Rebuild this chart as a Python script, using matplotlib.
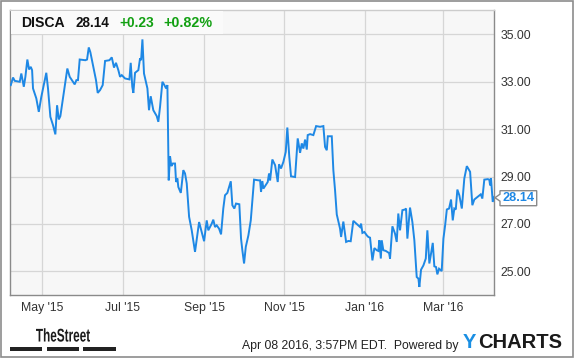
import matplotlib
matplotlib.use("Agg")
import matplotlib.pyplot as plt
import matplotlib.dates as mdates
from matplotlib.patches import Rectangle, Polygon, PathPatch
from matplotlib.textpath import TextPath
from matplotlib.font_manager import FontProperties
from matplotlib.transforms import Affine2D
import matplotlib.ticker as mticker
import pandas as pd

# ---------------- data ----------------
ticker = "DISCA"
last_price = "28.14"
change_abs = "+0.23"
change_pct = "+0.82%"
base_date = "2015-04-07"

# days after base_date
day = [
    0.0, 1.7, 3.0, 6.8, 8.0, 9.9, 11.1, 12.6, 13.9, 15.2,
    16.2, 16.9, 19.4, 21.3, 23.2, 25.3, 27.0, 28.3, 30.1, 32.1,
    33.9, 35.2, 36.5, 37.7, 39.7, 43.0, 44.8, 48.6, 49.9, 51.1,
    52.4, 56.7, 58.0, 59.3, 60.5,
    63.3, 64.8, 66.1, 67.9, 69.9, 71.7, 75.0, 76.8, 78.5, 80.0,
    81.8, 83.1, 84.4, 86.9, 90.2, 91.2, 92.4, 93.2, 94.5, 97.0,
    98.3, 99.1, 100.1, 101.3, 103.9, 105.1, 106.4, 108.4, 111.0, 112.2,
    113.5, 115.3, 116.8, 118.1, 119.1, 120.1, 121.1, 122.1, 123.2, 124.9,
    125.7, 126.7, 127.4, 129.3, 131.2, 132.5, 133.8, 135.6, 137.6, 140.1,
    143.2, 145.2, 147.0, 149.0, 150.2, 152.8, 154.0, 155.3, 156.6, 158.4,
    159.9, 161.6, 162.9, 164.7, 167.3, 168.5, 170.0, 171.3, 173.8, 175.1,
    176.1, 177.4, 178.7, 180.7, 182.5, 185.0, 188.3, 189.6, 190.3, 191.3,
    192.1, 195.4, 196.4, 197.2, 198.9, 201.0, 203.0, 204.0, 205.5, 207.3,
    209.1, 210.3, 211.8, 213.1, 216.2, 218.2, 220.0, 221.3, 222.5, 223.8,
    225.1, 225.8, 227.6, 230.1, 232.2, 235.2, 237.7, 239.0, 240.3, 241.1,
    244.1, 245.3, 246.6, 247.9, 250.4, 251.2, 252.9, 255.0, 256.7, 258.5,
    260.5, 262.3, 264.3, 265.6, 266.4, 267.4, 268.9, 270.7, 271.9, 273.2,
    275.0, 276.5, 278.3, 279.5, 280.3, 281.4, 282.1, 283.3, 285.2, 287.7,
    288.4, 290.2, 292.2, 293.5, 294.7, 296.0, 297.8, 299.8, 300.6, 301.6,
    303.6, 305.4, 306.9, 308.7, 310.0, 310.7, 312.0, 313.8, 315.6, 316.8,
    318.3, 319.6, 320.9, 322.1, 323.4, 324.4, 325.7, 327.7, 329.0, 330.3,
    331.6, 333.3, 334.8, 336.1, 337.3, 338.4, 339.6, 341.1, 343.0, 344.9,
    346.8, 349.3, 351.0, 352.5, 355.6, 357.4, 358.6, 360.1, 362.7, 363.9,
    364.5, 365.2, 366.5, 367.7,
]

price = [
    32.86, 33.18, 33.04, 33.00, 33.35, 32.79, 33.21, 33.94, 33.52, 33.63,
    33.49, 32.72, 32.30, 31.73, 32.36, 32.93, 33.38, 32.72, 31.52, 31.17,
    30.78, 32.01, 31.41, 31.55, 32.30, 33.56, 33.21, 32.89, 33.07, 33.07,
    33.94, 33.91, 33.94, 34.45, 34.25,
    33.49, 33.07, 32.53, 32.65, 32.86, 33.88, 33.91, 34.03, 33.60, 33.80,
    33.49, 33.21, 33.28, 33.14, 33.10, 33.80, 32.79, 32.53, 33.38, 33.49,
    33.99, 33.91, 34.79, 33.35, 32.72, 31.80, 32.39, 31.80, 31.55, 31.31,
    31.94, 33.00, 32.86, 32.72, 32.86, 28.84, 29.86, 29.44, 29.55, 29.55,
    28.77, 28.92, 28.56, 28.31, 29.27, 29.13, 28.71, 27.30, 26.73, 25.82,
    27.08, 26.66, 26.27, 27.15, 26.73, 27.01, 27.18, 26.87, 26.94, 26.80,
    26.56, 27.65, 28.21, 28.31, 28.80, 27.79, 27.65, 27.86, 27.83, 26.38,
    25.89, 25.33, 26.03, 26.52, 27.15, 28.87, 28.84, 28.84, 28.35, 28.81,
    28.49, 28.77, 29.13, 28.84, 29.72, 29.48, 28.77, 29.52, 29.34, 29.62,
    30.04, 31.07, 29.83, 29.01, 28.98, 30.61, 30.00, 30.40, 30.18, 30.56,
    30.14, 30.75, 30.79, 30.75, 31.13, 31.10, 31.13, 30.25, 30.11, 30.70,
    30.70, 29.27, 28.42, 27.40, 26.80, 26.45, 27.10, 26.24, 26.28, 26.27,
    27.13, 27.04, 26.94, 26.87, 27.01, 26.62, 26.66, 26.52, 26.45, 26.42,
    25.46, 25.98, 25.89, 25.86, 26.31, 25.54, 26.31, 25.89, 25.86, 25.77,
    25.54, 26.90, 26.59, 26.24, 27.44, 26.73, 27.58, 27.61, 27.65, 26.38,
    27.69, 27.08, 26.31, 24.76, 24.69, 24.34, 25.07, 25.25, 25.54, 26.73,
    25.33, 25.75, 26.20, 25.21, 25.18, 24.87, 25.11, 25.01, 26.38, 26.94,
    27.61, 27.65, 28.03, 27.15, 27.65, 27.61, 28.45, 28.21, 27.65, 28.92,
    29.44, 29.20, 27.79, 28.03, 28.17, 28.25, 28.07, 28.87, 28.89, 28.87,
    28.63, 28.92, 27.93, 28.14,
]

y_ticks = [25, 27, 29, 31, 33, 35]
x_tick_months = [1, 3, 5, 7, 9, 11]
footer_text = "Apr 08 2016, 3:57PM EDT.  Powered by"

assert len(day) == len(price)

# ---------------- figure ----------------
W, H = 575, 358
plt.rcParams['font.family'] = ['Liberation Sans', 'DejaVu Sans']
fig = plt.figure(figsize=(W / 100, H / 100), dpi=100)
fig.patch.set_facecolor('white')

def fx(x):
    return x / W

def fy(y):
    return 1 - y / H

L, T, R, B = 10, 10, 494.3, 295
ax = fig.add_axes([fx(L), fy(B), fx(R) - fx(L), fy(T) - fy(B)])
ax.set_facecolor('#f7f7f7')

dates = pd.Timestamp(base_date) + pd.to_timedelta(day, unit='D')
ax.plot(dates, price, color='#1e88e5', lw=1.4, zorder=3, solid_joinstyle='miter')

ax.set_xlim(pd.Timestamp(base_date) + pd.Timedelta(days=-0.6),
            pd.Timestamp(base_date) + pd.Timedelta(days=367.7))
ax.set_ylim(24.0, 36.03)

ax.xaxis.set_major_locator(mdates.MonthLocator(bymonth=x_tick_months))
ax.xaxis.set_major_formatter(mdates.DateFormatter("%b '%y"))
ax.yaxis.set_major_locator(mticker.FixedLocator(y_ticks))
ax.yaxis.set_major_formatter(mticker.FormatStrFormatter('%.2f'))
ax.yaxis.tick_right()
ax.tick_params(axis='y', length=0, pad=4.5, labelsize=8.8, labelcolor='#333333')
ax.tick_params(axis='x', length=0, pad=5, labelsize=8.8, labelcolor='#333333')

ax.grid(True, color='#d6d6d6', lw=0.9, zorder=1)
ax.set_axisbelow(True)
for s in ['left', 'bottom', 'right']:
    ax.spines[s].set_color('#8a8a8a')
    ax.spines[s].set_linewidth(1.0)
ax.spines['top'].set_color('#cccccc')
ax.spines['top'].set_linewidth(1.0)

# title box
fig.patches.append(Rectangle((fx(L + 0.7), fy(34)), fx(223) - fx(L + 0.7), fy(10.7) - fy(34),
                             transform=fig.transFigure, facecolor='#fafafa',
                             edgecolor='none', zorder=5))

renderer = fig.canvas.get_renderer()

def fitted_text(x0, x1, yc, s, color, weight='bold', base=10.5):
    t = fig.text(fx(x0), fy(yc), s, fontsize=base, fontweight=weight, color=color,
                 va='center', ha='left', zorder=6)
    w = t.get_window_extent(renderer).width
    t.set_fontsize(base * (x1 - x0) / w)
    return t

fitted_text(21, 65, 23, ticker, '#111111')
fitted_text(76, 110, 23, last_price, '#111111')
fitted_text(119, 154, 23, change_abs, '#12a012')
fitted_text(163, 212, 23, change_pct, '#12a012')

# current price label with pointer
pts = [(495, 197.7), (500, 194.2), (500, 190.7), (536.7, 190.7), (536.7, 205.7),
       (500, 205.7), (500, 201.2)]
fig.patches.append(Polygon([(fx(a), fy(b)) for a, b in pts], closed=True,
                           transform=fig.transFigure, facecolor='white',
                           edgecolor='#8a8a8a', lw=1.0, zorder=7))
fig.text(fx(518.5), fy(198.3), last_price, fontsize=9.2, fontweight='bold',
         color='#1e88e5', ha='center', va='center', zorder=8)

# footer
fig.text(fx(459), fy(349), footer_text, fontsize=8.8, color='#222222',
         ha='right', va='baseline')
fig.text(fx(462.5), fy(348.3), "Y", fontsize=14.5, fontweight='bold',
         color='#1a8fe3', ha='left', va='baseline')
fig.text(fx(478), fy(348.3), "CHARTS", fontsize=14.5, fontweight='bold',
         color='#1a1a1a', ha='left', va='baseline')

# TheStreet logo (condensed bold text path)
tp = TextPath((0, 0), "TheStreet", size=1,
              prop=FontProperties(family='Liberation Sans', weight='bold'))
ext = tp.get_extents()
tr = (Affine2D().translate(-ext.x0, -ext.y0)
      .scale(54 / ext.width, 13.5 / ext.height)
      .translate(36, H - 341.7)
      .scale(1 / W, 1 / H)) + fig.transFigure
fig.patches.append(PathPatch(tp, transform=tr, facecolor='#1a1a1a', edgecolor='none'))
for x0, x1 in [(10, 42.3), (47, 79), (83.3, 116)]:
    fig.patches.append(Rectangle((fx(x0), fy(350.7)), fx(x1) - fx(x0), fy(347.3) - fy(350.7),
                                 transform=fig.transFigure, facecolor='#222222',
                                 edgecolor='none'))

# outer border
fig.patches.append(Rectangle((fx(1), fy(356.5)), fx(572.5) - fx(1), fy(1) - fy(356.5),
                             transform=fig.transFigure, facecolor='none',
                             edgecolor='#8c8c8c', lw=1.2, zorder=10))

fig.savefig("out.png", dpi=100, facecolor='white')
